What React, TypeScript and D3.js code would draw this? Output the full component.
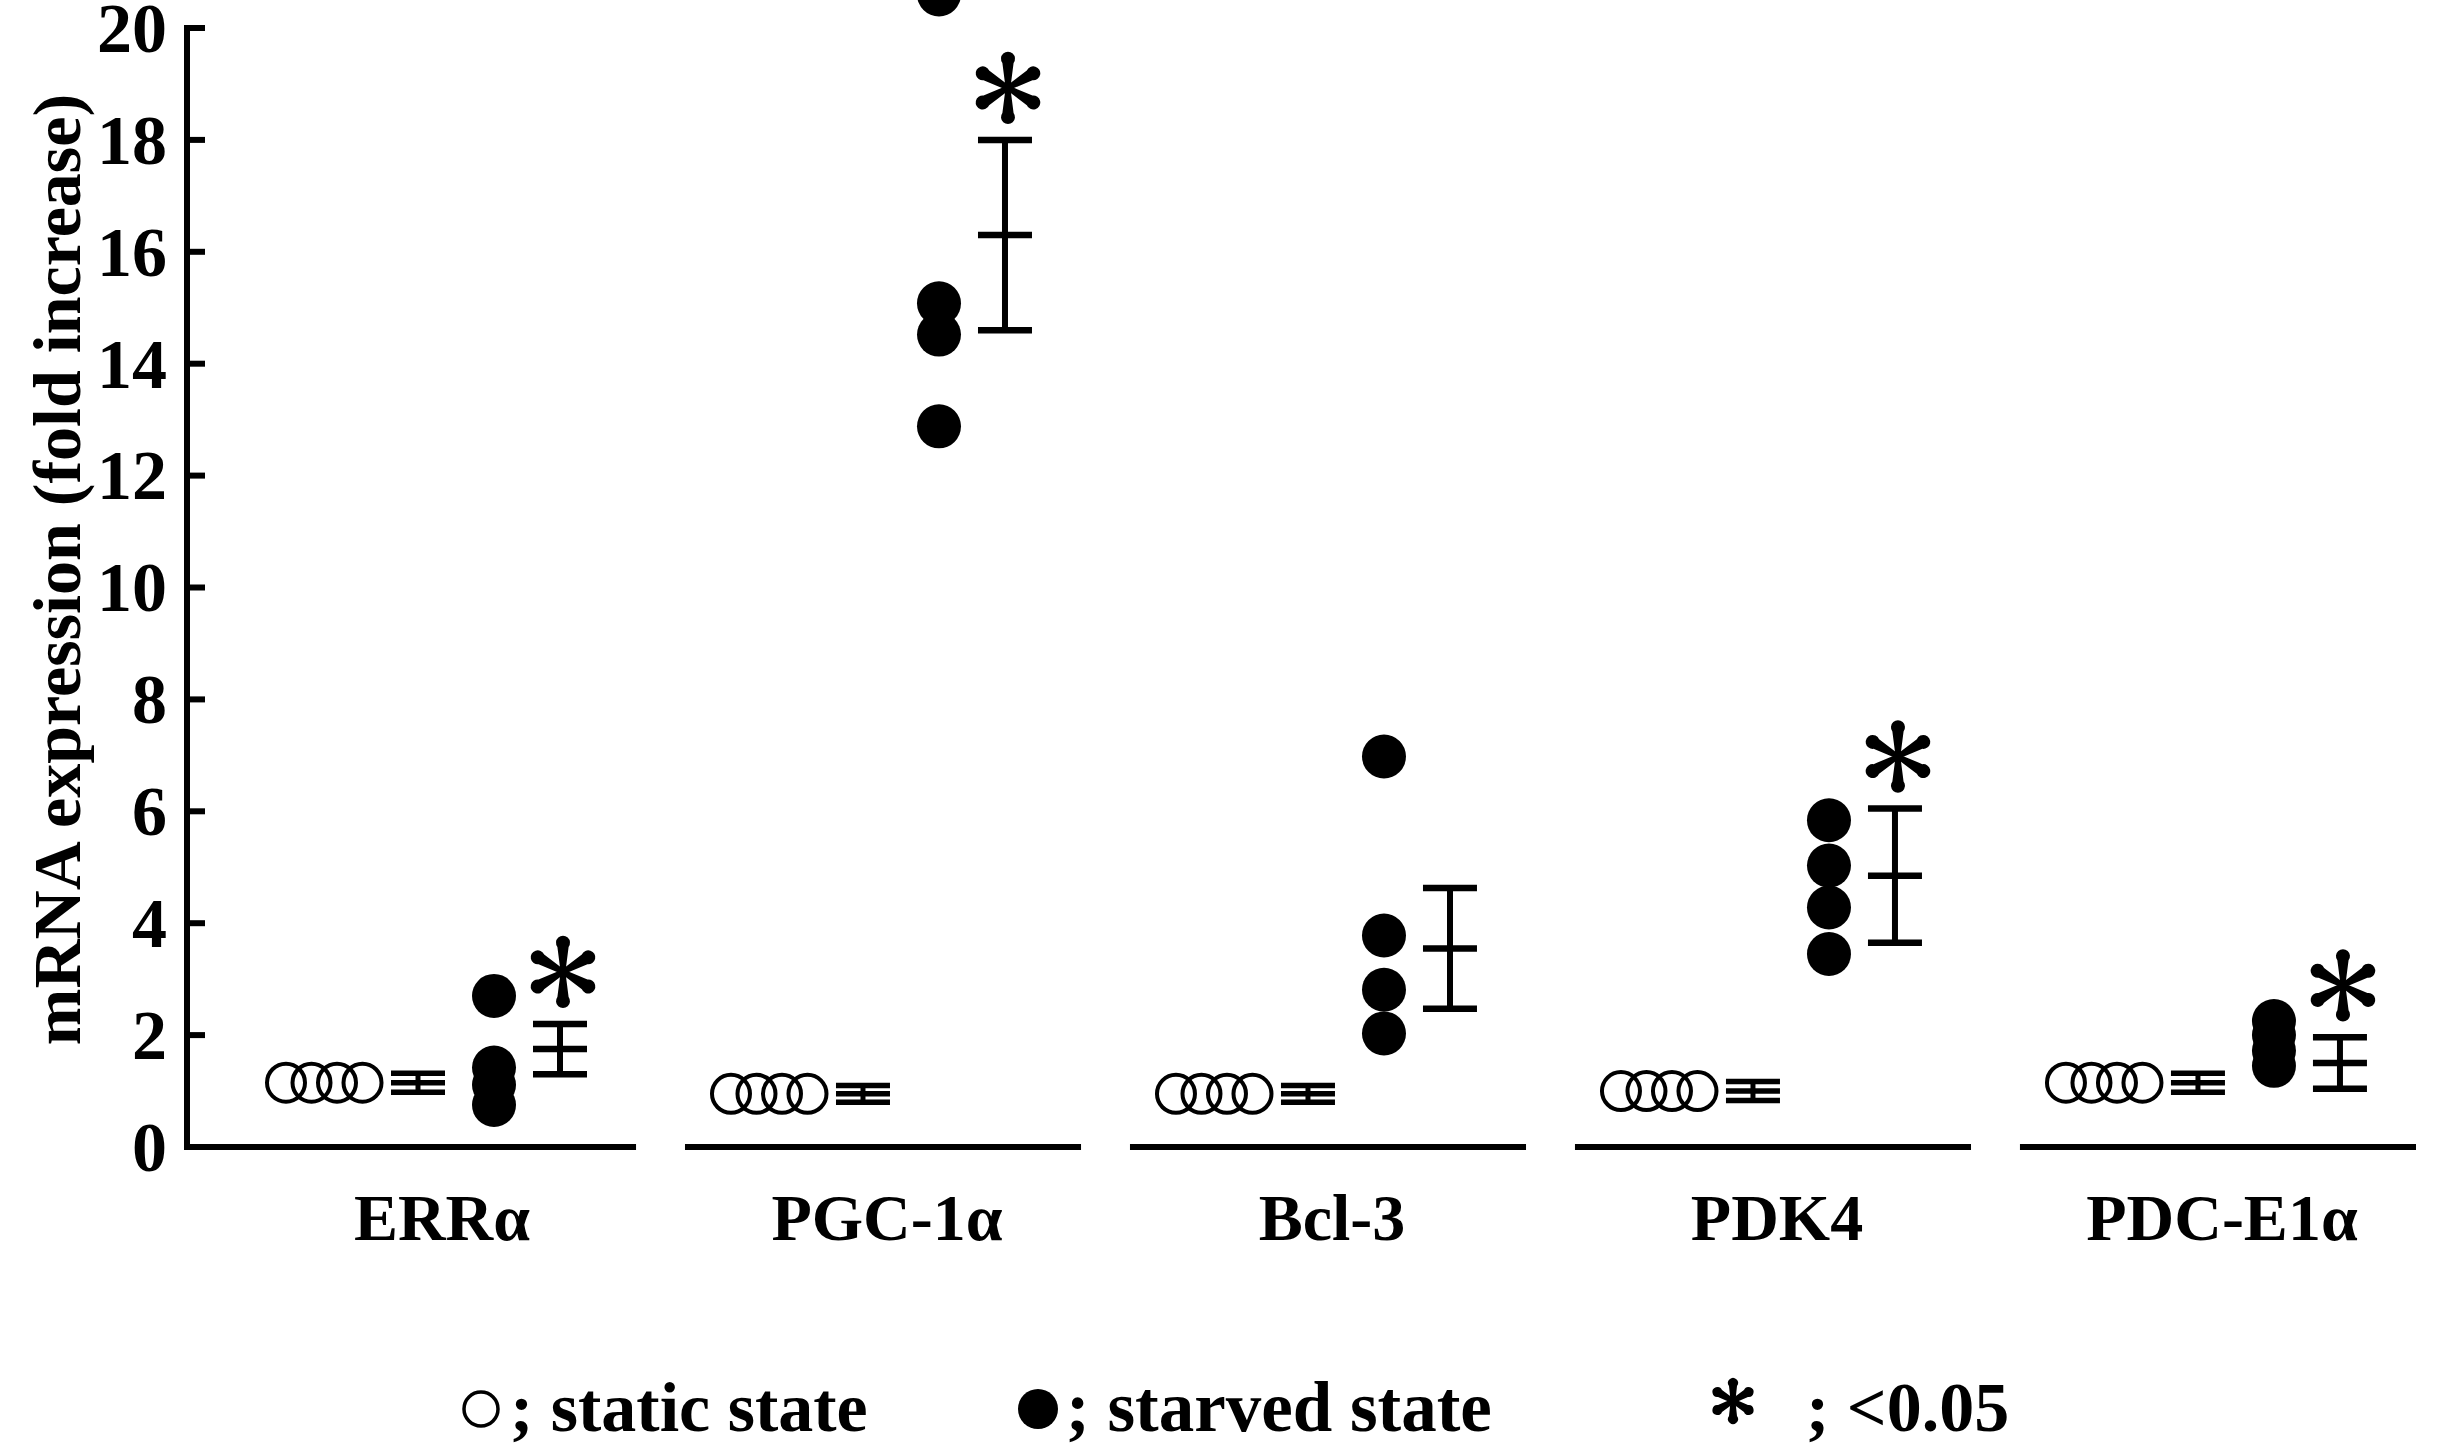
import React from "react";
import * as d3 from "d3";

const categories = ["ERRα", "PGC-1α", "Bcl-3", "PDK4", "PDC-E1α"];
const staticValues = [
  [1.15, 1.15, 1.15, 1.15],
  [0.95, 0.95, 0.95, 0.95],
  [0.95, 0.95, 0.95, 0.95],
  [1.0, 1.0, 1.0, 1.0],
  [1.15, 1.15, 1.15, 1.15],
];
const staticMean = [1.15, 0.95, 0.95, 1.0, 1.15];
const staticSem = [0.17, 0.15, 0.15, 0.17, 0.17];
const starvedValues = [
  [2.7, 1.42, 1.11, 0.75],
  [20.6, 15.08, 14.52, 12.88],
  [6.98, 3.78, 2.81, 2.03],
  [5.84, 5.03, 4.28, 3.45],
  [2.25, 2.0, 1.72, 1.45],
];
const starvedMean = [1.75, 16.3, 3.55, 4.85, 1.5];
const starvedSem = [0.45, 1.7, 1.08, 1.2, 0.46];
const significant = [true, true, false, true, true];
const yTicks = [0, 2, 4, 6, 8, 10, 12, 14, 16, 18, 20];
const yLabel = "mRNA expression (fold increase)";
const legendItems = ["; static state", "; starved state", "; <0.05"];

const W = 2441;
const H = 1445;
const FONT = "'Liberation Serif', 'Times New Roman', serif";
const AXIS_X = 187;

const y = d3.scaleLinear().domain([0, 20]).range([1147, 28]);
const x = d3.scaleBand<string>().domain(categories).range([240, 2416]).paddingInner(0.11).paddingOuter(0);

function Asterisk({ cx, cy, L, r }: { cx: number; cy: number; L: number; r: number }) {
  const petal = `M -2.4 0 L ${-r * 0.8} ${-L + r} A ${r} ${r} 0 1 1 ${r * 0.8} ${-L + r} L 2.4 0 Z`;
  return (
    <g transform={`translate(${cx},${cy})`}>
      {[0, 60, 120, 180, 240, 300].map((a) => (
        <path key={a} d={petal} transform={`rotate(${a})`} fill="#000" />
      ))}
      <circle r={4} fill="#000" />
    </g>
  );
}

function ErrBar({ cx, mean, sem, half, capW, lineW }: any) {
  const top = y(mean + sem);
  const bot = y(mean - sem);
  const mid = y(mean);
  return (
    <g stroke="#000" fill="none">
      <line x1={cx} x2={cx} y1={top} y2={bot} strokeWidth={lineW} />
      <line x1={cx - half} x2={cx + half} y1={top} y2={top} strokeWidth={capW} />
      <line x1={cx - half} x2={cx + half} y1={mid} y2={mid} strokeWidth={capW} />
      <line x1={cx - half} x2={cx + half} y1={bot} y2={bot} strokeWidth={capW} />
    </g>
  );
}

export default function App() {
  const bw = x.bandwidth();
  return (
    <svg
      width={W}
      height={H}
      viewBox={`0 0 ${W} ${H}`}
      style={{ position: "absolute", left: 0, top: 0, background: "#fff" }}
      fontFamily={FONT}
      fontWeight="bold"
    >
      <rect x={0} y={0} width={W} height={H} fill="#fff" />
      {/* y axis */}
      <line x1={AXIS_X} x2={AXIS_X} y1={y(20) - 3} y2={y(0) + 3} stroke="#000" strokeWidth={6} />
      {yTicks.map((t) => (
        <g key={t}>
          <line x1={AXIS_X} x2={AXIS_X + 18} y1={y(t)} y2={y(t)} stroke="#000" strokeWidth={6} />
          <text x={167} y={y(t)} dy="0.34em" textAnchor="end" fontSize={70}>
            {t}
          </text>
        </g>
      ))}
      <text
        transform={`translate(80,${(y(0) + y(20)) / 2 - 18}) rotate(-90)`}
        textAnchor="middle"
        fontSize={68}
      >
        {yLabel}
      </text>

      {categories.map((c, i) => {
        const x0 = x(c) as number;
        const segStart = i === 0 ? AXIS_X : x0;
        const cxStatic = (k: number) => x0 + 46 + k * 25.5;
        const ebStatic = x0 + 178;
        const cxStarved = x0 + 254;
        const ebStarved = x0 + 320;
        return (
          <g key={c}>
            <line x1={segStart} x2={x0 + bw} y1={y(0)} y2={y(0)} stroke="#000" strokeWidth={6} />
            {staticValues[i].map((v, k) => (
              <circle key={k} cx={cxStatic(k)} cy={y(v)} r={19} fill="none" stroke="#000" strokeWidth={4} />
            ))}
            <ErrBar cx={ebStatic} mean={staticMean[i]} sem={staticSem[i]} half={27} capW={5.5} lineW={5} />
            {starvedValues[i].map((v, k) => (
              <circle key={k} cx={cxStarved} cy={y(v)} r={22} fill="#000" />
            ))}
            <ErrBar cx={ebStarved} mean={starvedMean[i]} sem={starvedSem[i]} half={27} capW={6.5} lineW={6} />
            {significant[i] && (
              <Asterisk cx={ebStarved + 3} cy={y(starvedMean[i] + starvedSem[i]) - 52} L={32} r={7} />
            )}
            <text x={x0 + bw / 2 + 4} y={1240} textAnchor="middle" fontSize={66}>
              {c}
            </text>
          </g>
        );
      })}

      {/* legend */}
      <circle cx={481} cy={1409} r={17} fill="none" stroke="#000" strokeWidth={3.5} />
      <text x={510} y={1431} fontSize={70}>
        {legendItems[0]}
      </text>
      <circle cx={1038} cy={1409} r={20} fill="#000" />
      <text x={1066} y={1431} fontSize={71}>
        {legendItems[1]}
      </text>
      <Asterisk cx={1733} cy={1401} L={20} r={5} />
      <text x={1806} y={1431} fontSize={70}>
        {legendItems[2]}
      </text>
    </svg>
  );
}
